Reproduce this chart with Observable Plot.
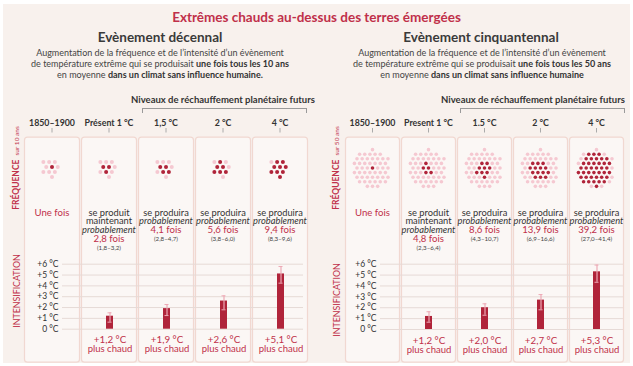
<!DOCTYPE html>
<html><head><meta charset="utf-8">
<script src="https://cdn.jsdelivr.net/npm/d3@7"></script>
<script src="https://cdn.jsdelivr.net/npm/@observablehq/plot@0.6"></script>
<style>
body{margin:0;background:#fff;font-family:Lato,"Open Sans",sans-serif;}
#wrap{position:relative;width:633px;height:366px;overflow:hidden;background:#fff}
#bg{position:absolute;left:3px;top:4px;width:627px;height:359px;background:#f8f1ed}
.abs{position:absolute;white-space:nowrap}
.title{left:0;width:633px;top:8px;text-align:center;color:#c0304a;font-weight:700;font-size:13.5px;line-height:18px}
.ptitle{text-align:center;color:#3a3a3a;font-weight:700;font-size:13.5px;line-height:16px}
.sub{text-align:center;color:#444;font-size:9px;line-height:11px}
.sub b{color:#333}
.niv{text-align:center;color:#333;font-weight:700;font-size:9.5px;line-height:11px}
.brk{border:1px solid #9a9a9a;border-bottom:none;height:4px}
.side{transform:translate(-50%,-50%) rotate(-90deg);color:#c0304a;line-height:10px}
svg{position:absolute;left:0}
</style></head>
<body><div id="wrap"><div id="bg"></div></div>
<script>
// ---------- data ----------
const headersDec = ["1850–1900","Présent 1 °C","1,5 °C","2 °C","4 °C"];
const headersCin = ["1850–1900","Present 1 °C","1.5 °C","2 °C","4 °C"];
const freqDec = [1, 2.8, 4.1, 5.6, 9.4];
const freqDecLow = [null, 1.8, 2.8, 3.8, 8.3];
const freqDecHigh = [null, 3.2, 4.7, 6.0, 9.6];
const freqCin = [1, 4.8, 8.6, 13.9, 39.2];
const freqCinLow = [null, 2.3, 4.3, 6.9, 27.0];
const freqCinHigh = [null, 6.4, 10.7, 16.6, 41.4];
const dotsDec = 10, dotsCin = 50;
const intDec = [null, 1.2, 1.9, 2.6, 5.1];
const intDecLow = [null, 0.65, 1.26, 1.79, 4.25];
const intDecHigh = [null, 1.51, 2.28, 3.08, 5.79];
const intCin = [null, 1.2, 2.0, 2.7, 5.3];
const intCinLow = [null, 0.67, 1.31, 1.81, 4.34];
const intCinHigh = [null, 1.63, 2.36, 3.21, 5.92];
const yTicks = [0, 1, 2, 3, 4, 5, 6];

const RED = "#c0304a", DARK = "#b0243a", LIGHT = "#f5c8d1", ERR = "#eda9b5";
const fmt = v => v.toFixed(1).replace(".", ",");

const wrap = document.getElementById("wrap");
function add(html, cls, style) {
  const d = document.createElement("div");
  d.className = "abs " + cls; d.innerHTML = html; d.setAttribute("style", style || "");
  wrap.appendChild(d); return d;
}

// ---------- text ----------
add("Extrêmes chauds au-dessus des terres émergées", "title");
add("Evènement décennal", "ptitle", "left:60px;width:200px;top:29px");
add("Evènement cinquantennal", "ptitle", "left:381px;width:200px;top:29px");
add("Augmentation de la fréquence et de  l’intensité d’un évènement<br>de température extrême qui se produisait <b>une fois tous les 10 ans</b><br>en moyenne <b>dans un climat sans influence humaine.</b>", "sub", "left:10px;width:300px;top:47px");
add("Augmentation de la fréquence et de  l’intensité d’un évènement<br>de température extrême qui se produisait <b>une fois tous les 50 ans</b><br>en moyenne <b>dans un climat sans influence humaine</b>", "sub", "left:332px;width:300px;top:47px");
add("Niveaux de réchauffement planétaire futurs", "niv", "left:123px;width:200px;top:94px");
add("Niveaux de réchauffement planétaire futurs", "niv", "left:433px;width:200px;top:94px");
add("", "brk", "left:142px;width:163px;top:108px");
add("", "brk", "left:460px;width:163px;top:108px");
add('<b style="font-size:8.5px">FRÉQUENCE</b> <span style="font-size:6.5px">sur 10 ans</span>', "side", "left:15px;top:168px");
add('<b style="font-size:8.5px">FRÉQUENCE</b> <span style="font-size:6.5px">sur 50 ans</span>', "side", "left:335px;top:168px");
add('<span style="font-size:8.8px">INTENSIFICATION</span>', "side", "left:15px;top:291px");
add('<span style="font-size:8.8px">INTENSIFICATION</span>', "side", "left:335px;top:300px");

// ---------- layout helpers ----------
function hexCluster(n, S) {
  const pts = [];
  for (let j = -9; j <= 9; j++) for (let i = -9; i <= 9; i++) {
    const x = (i + (j & 1) * 0.5) * S, y = j * S * Math.sqrt(3) / 2;
    pts.push({x, y, d: Math.hypot(x + 0.05, y - 0.03)});
  }
  pts.sort((a, b) => a.d - b.d);
  return pts.slice(0, n);
}
function dotData(headers, freq, total, cy, S) {
  const out = [];
  headers.forEach((col, i) => {
    const k = Math.round(freq[i]);
    const ox = i === 0 ? 0 : -0.35 * S, oy = i === 0 ? 0 : 0.25 * S;
    hexCluster(total, S)
      .map(p => ({...p, dd: Math.hypot(p.x - ox, p.y - oy)}))
      .sort((a, b) => a.dd - b.dd)
      .forEach((p, j) => out.push({col, x: p.x, y: cy + p.y, dark: j < k}));
  });
  return out;
}
function freqLines(headers, freq, lo, hi) {
  const out = [];
  headers.forEach((col, i) => {
    if (i === 0) { out.push({col, y: 212.5, text: "Une fois", kind: "red"}); return; }
    let y = 212.3;
    (i === 1 ? ["se produit", "maintenant"] : ["se produira"]).forEach(t => { out.push({col, y, text: t, kind: "plain"}); y += 8.7; });
    out.push({col, y, text: "probablement", kind: "ital"}); y += 8.8;
    out.push({col, y, text: fmt(freq[i]) + " fois", kind: "red"}); y += 9.2;
    out.push({col, y, text: `(${fmt(lo[i])}–${fmt(hi[i])})`, kind: "small"});
  });
  return out;
}

function freqPlot(headers, freq, lo, hi, total, x0, x1, cy, S, r) {
  const dots = dotData(headers, freq, total, cy, S);
  const lines = freqLines(headers, freq, lo, hi);
  const k = kind => lines.filter(d => d.kind === kind);
  return Plot.plot({
    width: 633, height: 251, marginLeft: x0, marginRight: 633 - x1, marginTop: 0, marginBottom: 0,
    style: {background: "transparent", fontFamily: "Lato"},
    fx: {domain: headers, paddingInner: 0.03, paddingOuter: 0, axis: null},
    x: {domain: [-27.7, 27.7], axis: null},
    y: {domain: [115, 366], range: [0, 251], axis: null},
    marks: [
      Plot.frame({fill: "#fbf7f5", stroke: "#f1d8d1", strokeWidth: 1.2, rx: 3, insetTop: 21.7, insetBottom: 4.3}),
      Plot.text(headers, {fx: d => d, text: d => d, y: 122.5, fontWeight: "bold", fontSize: 8.8, fill: "#333"}),
      Plot.ruleX(headers, {fx: d => d, x: 0, y1: 128, y2: 132.5, stroke: "#aaa"}),
      Plot.dot(dots.filter(d => !d.dark), {fx: "col", x: "x", y: "y", r, fill: LIGHT}),
      Plot.dot(dots.filter(d => d.dark), {fx: "col", x: "x", y: "y", r, fill: DARK}),
      Plot.text(k("plain"), {fx: "col", y: "y", text: "text", fontSize: 9.3, fill: "#333"}),
      Plot.text(k("ital"), {fx: "col", y: "y", text: "text", fontSize: 9.3, fontStyle: "italic", fill: "#333"}),
      Plot.text(k("red"), {fx: "col", y: "y", text: "text", fontSize: 9.6, fill: RED}),
      Plot.text(k("small"), {fx: "col", y: "y", text: "text", fontSize: 6.2, fill: "#444"})
    ]
  });
}

function barPlot(headers, vals, lo, hi, x0, x1, g0, g1, y0) {
  // band scale sharing the column centres of the boxes, with 7px-wide bands
  const step = (x1 - x0) / (headers.length - 0.03);
  const p = 1 - 7 / step, po = (p - 0.03) / 2;
  const data = headers.map((col, i) => ({col, v: vals[i], lo: lo[i], hi: hi[i]})).filter(d => d.v != null);
  return Plot.plot({
    width: 633, height: 112, marginLeft: g0, marginRight: 633 - g1, marginTop: 0, marginBottom: 0,
    style: {background: "transparent", fontFamily: "Lato"},
    x: {type: "band", domain: headers, range: [x0, x1], paddingInner: p, paddingOuter: po, align: 0.5, axis: null},
    y: {domain: [0, 6], range: [y0, 13.7], axis: null},
    marks: [
      Plot.gridY(yTicks, {stroke: "#e6dad6", strokeOpacity: 1}),
      Plot.axisY(yTicks, {tickSize: 0, tickPadding: 4, tickFormat: d => (d > 0 ? "+" : "") + d + " °C", fontSize: 8.5, color: "#333", label: null}),
      Plot.barY(data, {x: "col", y1: 0, y2: "v", fill: DARK}),
      Plot.ruleX(data, {x: "col", y1: "lo", y2: "hi", stroke: ERR, strokeWidth: 1.2}),
      Plot.tickY(data, {x: "col", y: "lo", stroke: ERR, strokeWidth: 1, insetLeft: 1.5, insetRight: 1.5}),
      Plot.tickY(data, {x: "col", y: "hi", stroke: ERR, strokeWidth: 1, insetLeft: 1.5, insetRight: 1.5}),
      Plot.text(data, {x: "col", y: 0, dy: 11, text: d => "+" + fmt(d.v) + " °C", fontSize: 9.8, fill: RED}),
      Plot.text(data, {x: "col", y: 0, dy: 20, text: () => "plus chaud", fontSize: 9.5, fill: RED})
    ]
  });
}

function place(svg, top) { svg.style.top = top + "px"; wrap.appendChild(svg); }
place(freqPlot(headersDec, freqDec, freqDecLow, freqDecHigh, dotsDec, 24, 308, 166.5, 5.8, 2), 115);
place(freqPlot(headersCin, freqCin, freqCinLow, freqCinHigh, dotsCin, 343, 626, 167.5, 5.3, 1.8), 115);
place(barPlot(headersDec, intDec, intDecLow, intDecHigh, 24, 308, 62, 303, 78.7), 250);
place(barPlot(headersCin, intCin, intCinLow, intCinHigh, 343, 626, 380, 623, 79), 250);
</script></body></html>
